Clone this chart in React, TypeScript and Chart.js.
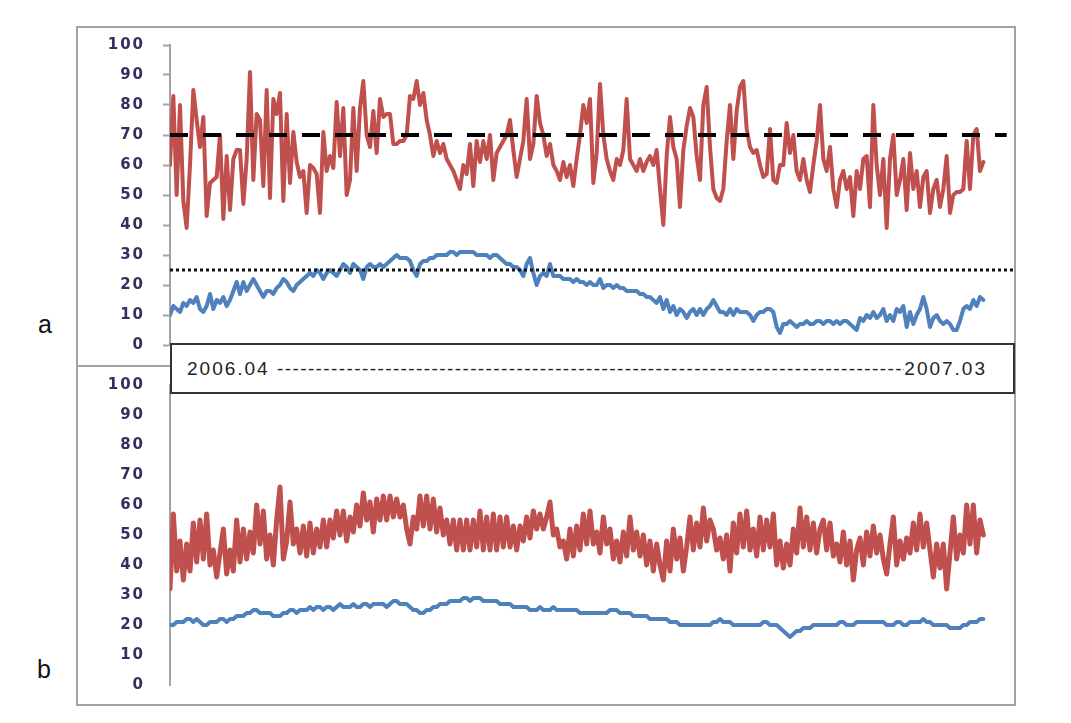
import { useEffect, useRef } from "react";
import { Chart, registerables } from "chart.js";

Chart.register(...registerables);

// ---- data ----
const RANGE_LABELS = ["2006.04", "2007.03"];
const PANEL_LABELS = ["a", "b"];
const Y_MIN = 0;
const Y_MAX = 100;
const Y_STEP = 10;
const THRESHOLD_HIGH = 70;
const THRESHOLD_LOW = 25;

const RED_A = [
  60, 83, 50, 80, 48, 39, 60, 85, 75, 66,
  76, 43, 54, 55, 56, 70, 42, 63, 45, 62,
  65, 65, 47, 62, 91, 55, 77, 75, 53, 85,
  49, 82, 77, 84, 48, 77, 54, 71, 61, 56,
  58, 44, 60, 59, 57, 44, 71, 58, 63, 59,
  81, 63, 79, 50, 55, 79, 58, 79, 88, 70,
  66, 78, 64, 82, 76, 77, 77, 67, 67,
  68, 68, 70, 83, 82, 88, 80, 84, 75, 70,
  63, 68, 64, 67, 62, 60, 58, 55, 52, 60,
  57, 67, 53, 68, 61, 68, 62, 70, 55, 64,
  66, 68, 70, 75, 65, 56, 62, 68, 82, 62,
  67, 83, 74, 70, 63, 67, 60, 58, 55, 61,
  56, 60, 53, 62, 70, 80, 74, 82, 54, 64,
  87, 70, 62, 58, 55, 62, 60, 65, 82, 62,
  60, 58, 62, 58, 61, 63, 60, 65, 52, 40,
  63, 76, 66, 62, 46, 65, 73, 79, 76, 63,
  55, 80, 86, 66,
  52, 49, 48, 52, 68, 80, 62, 78, 86, 88,
  72, 66, 64, 65, 60, 56, 57, 72, 55, 54,
  60, 60, 74, 64, 70, 58, 55, 62, 55, 51,
  60, 68, 80, 62, 58, 66, 52, 46, 55, 58,
  52, 56, 43, 58, 52, 62, 63, 46, 80, 60,
  50, 62, 39, 62, 70, 50, 55, 62, 45, 64,
  52, 58, 46, 56, 58, 44, 52, 55, 46, 52,
  63, 44, 50, 51, 51, 52, 68, 52, 70, 72,
  58, 61,
];

const BLUE_A = [
  10, 13, 12, 11, 14, 13, 15, 14, 16, 12,
  11, 13, 17, 12, 15, 14, 16, 13, 15, 18,
  21, 17, 21, 18, 20, 22, 20, 18, 16, 18,
  18, 17, 19, 20, 22, 21, 19, 18, 20, 21,
  22, 23, 24, 23, 25, 24, 22, 24, 25, 24,
  23, 25, 27, 26, 24, 27, 26, 25, 22, 26,
  27, 26, 26, 27, 26, 27, 28, 29, 30,
  29, 29, 29, 28, 25, 23, 27, 28, 28, 29,
  29, 30, 30, 30, 30, 31, 31, 30, 31, 31,
  31, 31, 31, 30, 30, 30, 30, 29, 30, 30,
  29, 28, 27, 27, 26, 26, 25, 23, 27, 29,
  24, 20, 23, 24, 23, 27, 23, 23, 23, 22,
  22, 22, 21, 22, 21, 21, 20, 21, 20, 20,
  22, 19, 20, 20, 19, 20, 19, 19, 18, 18,
  18, 18, 17, 17, 16, 16, 15, 14, 16, 12,
  15, 11, 13, 10, 12, 11, 9, 11, 12, 10,
  12, 10, 12, 13,
  15, 13, 11, 11, 10, 12, 10, 12, 11, 11,
  11, 10, 8, 10, 11, 11, 12, 12, 11, 6,
  4, 7, 7, 8, 7, 6, 7, 7, 8, 7,
  7, 8, 8, 7, 8, 8, 7, 8, 7, 8,
  8, 7, 6, 5, 9, 8, 10, 9, 11, 9,
  10, 12, 8, 10, 8, 12, 11, 13, 6, 11,
  7, 10, 12, 16, 12, 6, 9, 10, 8, 7,
  8, 7, 5, 5, 8, 12, 13, 12, 15, 13,
  16, 15,
];

const RED_B = [
  32, 57, 38, 48, 35, 47, 38, 54, 41, 55,
  42, 57, 40, 45, 36, 44, 52, 37, 45, 38,
  55, 41, 52, 42, 51, 44, 60, 47, 58, 42,
  50, 40, 55, 66, 42, 48, 61, 47, 52, 44,
  53, 43, 54, 44, 52, 46, 55, 46, 55, 49,
  58, 50, 58, 48, 56, 51, 60, 53, 64, 55,
  61, 51, 62, 55, 63, 55, 63, 56, 62,
  56, 60, 52, 47, 56, 52, 63, 53, 63, 52,
  62, 51, 59, 50, 55, 47, 55, 45, 55, 45,
  55, 45, 55, 46, 58, 45, 56, 45, 57, 45,
  56, 46, 56, 46, 53, 45, 53, 48, 56, 49,
  58, 52, 57, 52, 56, 61, 50, 52, 46, 48,
  42, 52, 43, 53, 45, 57, 47, 58, 47, 51,
  44, 56, 47, 52, 42, 48, 41, 51, 43, 56,
  45, 51, 43, 50, 40, 48, 38, 47, 40, 35,
  48, 38, 52, 42, 49, 38, 46, 56, 45, 54,
  46, 59, 48, 55,
  52, 45, 49, 42, 50, 38, 54, 44, 57, 46,
  58, 45, 52, 43, 56, 45, 55, 46, 57, 40,
  48, 39, 47, 40, 52, 44, 59, 46, 56, 45,
  54, 44, 52, 55, 45, 54, 43, 47, 41, 51,
  40, 48, 35, 45, 49, 40, 51, 43, 53, 44,
  50, 42, 37, 47, 56, 40, 48, 42, 49, 44,
  54, 45, 57, 46, 54, 45, 36, 47, 39, 47,
  32, 44, 56, 42, 50, 44, 60, 47, 60, 44,
  55, 50,
];

const BLUE_B = [
  20, 20, 21, 21, 21, 22, 22, 21, 22, 21,
  20, 20, 21, 21, 21, 22, 22, 21, 22, 22,
  23, 23, 23, 24, 24, 25, 25, 24, 24, 24,
  24, 23, 23, 23, 24, 24, 25, 25, 24, 25,
  25, 25, 26, 25, 26, 26, 25, 26, 26, 25,
  26, 27, 26, 26, 26, 27, 26, 26, 27, 27,
  26, 27, 27, 27, 27, 26, 27, 28, 28,
  27, 27, 27, 26, 25, 25, 24, 24, 25, 25,
  26, 26, 27, 27, 27, 28, 28, 28, 28, 29,
  29, 28, 29, 29, 29, 28, 28, 28, 28, 28,
  27, 27, 27, 27, 26, 26, 26, 26, 26, 25,
  25, 25, 26, 25, 25, 25, 26, 25, 25, 25,
  25, 25, 25, 25, 24, 24, 24, 24, 24, 24,
  24, 24, 24, 25, 25, 25, 24, 24, 24, 24,
  23, 23, 23, 23, 23, 22, 22, 22, 22, 22,
  22, 21, 21, 21, 20, 20, 20, 20, 20, 20,
  20, 20, 20, 20,
  21, 21, 22, 21, 21, 21, 20, 20, 20, 20,
  20, 20, 20, 20, 20, 21, 21, 20, 20, 20,
  19, 18, 17, 16, 17, 18, 18, 19, 19, 19,
  20, 20, 20, 20, 20, 20, 20, 20, 21, 21,
  20, 20, 20, 21, 21, 21, 21, 21, 21, 21,
  21, 21, 20, 20, 20, 21, 21, 20, 20, 21,
  21, 21, 21, 22, 21, 21, 20, 20, 20, 20,
  20, 19, 19, 19, 19, 20, 20, 21, 21, 21,
  22, 22,
];

// ---- layout constants ----
const X_MAX = 253.5; // axis extent in sample units (data ends before the frame)
const DASH_END = 251;
const RED = "#c0504d";
const BLUE = "#4f81bd";
const AXIS_GRAY = "#a3a3a3";
const TICK_TEXT = "#3b2c5e";

const letterSpacingPlugin = {
  id: "tickLetterSpacing",
  beforeDraw(chart: any) {
    try {
      (chart.ctx as any).letterSpacing = "2px";
    } catch (e) {
      /* ignore */
    }
  },
};

type PanelProps = {
  red: number[];
  blue: number[];
  withRefs: boolean;
  withTicks: boolean;
  redWidth: number;
  top: number;
};

function Panel({ red, blue, withRefs, withTicks, redWidth, top }: PanelProps) {
  const ref = useRef<HTMLCanvasElement>(null);
  useEffect(() => {
    const toXY = (arr: number[]) => arr.map((y, i) => ({ x: i, y }));
    const datasets: any[] = [];
    if (withRefs) {
      datasets.push({
        data: [
          { x: 0, y: THRESHOLD_HIGH },
          { x: DASH_END, y: THRESHOLD_HIGH },
        ],
        borderColor: "#000",
        borderWidth: 4,
        borderDash: [18, 15],
        pointRadius: 0,
        order: 0,
      });
      datasets.push({
        data: [
          { x: 0, y: THRESHOLD_LOW },
          { x: X_MAX, y: THRESHOLD_LOW },
        ],
        borderColor: "#111",
        borderWidth: 3,
        borderDash: [3, 3],
        pointRadius: 0,
        order: 1,
      });
    }
    datasets.push({
      data: toXY(red),
      borderColor: RED,
      borderWidth: redWidth,
      pointRadius: 0,
      borderJoinStyle: "round",
      borderCapStyle: "round",
      tension: 0,
      order: 3,
    });
    datasets.push({
      data: toXY(blue),
      borderColor: BLUE,
      borderWidth: 4,
      pointRadius: 0,
      borderJoinStyle: "round",
      borderCapStyle: "round",
      tension: 0,
      order: 2,
    });
    const chart = new Chart(ref.current!, {
      type: "line",
      data: { datasets },
      plugins: [letterSpacingPlugin],
      options: {
        animation: false,
        responsive: false,
        maintainAspectRatio: false,
        events: [],
        layout: { padding: { top: 15, bottom: 5, left: 0, right: 0 } },
        plugins: { legend: { display: false }, tooltip: { enabled: false } },
        scales: {
          x: { type: "linear", display: false, min: 0, max: X_MAX },
          y: {
            min: Y_MIN,
            max: Y_MAX,
            ticks: {
              stepSize: Y_STEP,
              color: TICK_TEXT,
              padding: withTicks ? 18 : 25,
              font: { family: "'DejaVu Sans'", size: 15, weight: "bold" },
            },
            grid: {
              drawOnChartArea: false,
              drawTicks: withTicks,
              tickLength: 7,
              tickColor: AXIS_GRAY,
              tickWidth: 2,
            },
            border: { display: true, color: AXIS_GRAY, width: 2 },
            afterFit: (s: any) => {
              s.width = 90;
              s.paddingTop = 0;
              s.paddingBottom = 0;
            },
          },
        },
      } as any,
    });
    return () => chart.destroy();
  }, [red, blue, withRefs, withTicks, redWidth]);
  return (
    <canvas
      ref={ref}
      width={935}
      height={320}
      style={{ position: "absolute", left: 80, top, width: 935, height: 320 }}
    />
  );
}

export default function App() {
  return (
    <div
      style={{
        position: "fixed",
        left: 0,
        top: 0,
        width: 1071,
        height: 723,
        background: "#fff",
        fontFamily: "'Liberation Sans', Arial, sans-serif",
        overflow: "hidden",
      }}
    >
      <div
        style={{
          position: "absolute",
          left: 76,
          top: 26,
          width: 940,
          height: 680,
          border: `2px solid ${AXIS_GRAY}`,
          boxSizing: "border-box",
        }}
      />
      <div
        style={{
          position: "absolute",
          left: 76,
          top: 365,
          width: 94,
          height: 2,
          background: AXIS_GRAY,
        }}
      />
      <Panel red={RED_A} blue={BLUE_A} withRefs={true} withTicks={true} redWidth={4} top={30} />
      <Panel red={RED_B} blue={BLUE_B} withRefs={false} withTicks={false} redWidth={5} top={370} />
      <div
        style={{
          position: "absolute",
          left: 170,
          top: 343,
          width: 845,
          height: 51,
          border: "2px solid #333",
          boxSizing: "border-box",
          background: "#fff",
          display: "flex",
          alignItems: "center",
          paddingLeft: 15,
          paddingRight: 26,
          fontSize: 19,
          letterSpacing: 2,
          color: "#222",
          whiteSpace: "nowrap",
        }}
      >
        <span>{RANGE_LABELS[0]}&nbsp;</span>
        <span style={{ flex: 1, overflow: "hidden", letterSpacing: 1.4 }}>
          {"-".repeat(140)}
        </span>
        <span>{RANGE_LABELS[1]}</span>
      </div>
      <div
        style={{
          position: "absolute",
          left: 38,
          top: 312,
          fontSize: 25,
          lineHeight: "25px",
          color: "#111",
        }}
      >
        {PANEL_LABELS[0]}
      </div>
      <div
        style={{
          position: "absolute",
          left: 37,
          top: 657,
          fontSize: 25,
          lineHeight: "25px",
          color: "#111",
        }}
      >
        {PANEL_LABELS[1]}
      </div>
    </div>
  );
}
